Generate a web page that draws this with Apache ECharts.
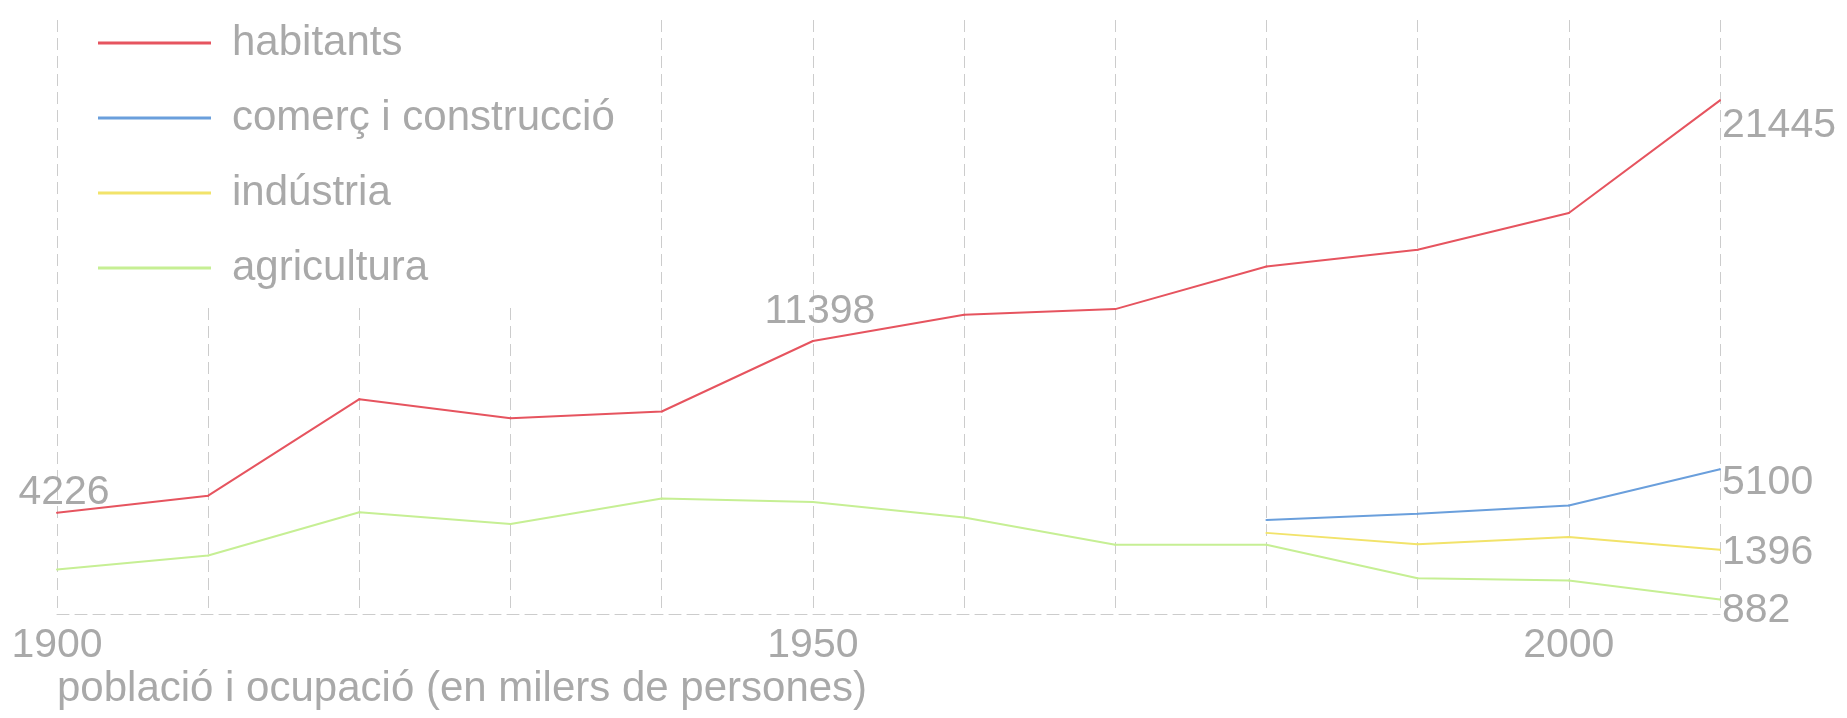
<!DOCTYPE html>
<html>
<head>
<meta charset="utf-8">
<script src="https://cdn.jsdelivr.net/npm/echarts@6/dist/echarts.min.js"></script>
<style>
html,body{margin:0;padding:0;background:#fff;}
#chart{width:1847px;height:718px;}
</style>
</head>
<body>
<div id="chart"></div>
<script>
// ---- data (values in thousands of persons) ----
const years = [1900, 1910, 1920, 1930, 1940, 1950, 1960, 1970, 1980, 1990, 2000, 2010];
const seriesNames = ['habitants', 'comerç i construcció', 'indústria', 'agricultura'];
const habitants   = [4226, 4940, 8970, 8170, 8455, 11398, 12490, 12730, 14510, 15210, 16740, 21445];
const comerc      = [null, null, null, null, null, null, null, null, 3920, 4190, 4530, 6045];
const industria   = [null, null, null, null, null, null, null, null, 3387, 2917, 3218, 2678];
const agricultura = [1853, 2442, 4250, 3760, 4824, 4672, 4025, 2895, 2895, 1490, 1400, 608];
const tickLabels = [1900, 1950, 2000];
const habitantsLabelIdx = [0, 5, 11];
const sectorEndLabels = ['5100', '1396', '882'];
const axisTitle = 'població i ocupació (en milers de persones)';

// ---- styling ----
const FONT = 'Liberation Sans, Arial, sans-serif';
const GRAY = '#a9a9a9';
const GRID = '#cccccc';
const colors = ['#e6545f', '#6a9fdc', '#f2e36a', '#c6ef94'];

function pairs(vals) {
  return years.map((y, i) => [y, vals[i]]);
}

const labelBase = { show: true, color: GRAY, fontSize: 41, fontFamily: FONT };

const habLabelCfg = [
  { position: 'top', distance: -1, offset: [7, 0] },
  { position: 'top', distance: 8, offset: [7, 0] },
  { position: 'right', distance: 1, offset: [0, 25] }
];

const habData = pairs(habitants).map((p, i) => {
  const k = habitantsLabelIdx.indexOf(i);
  if (k < 0) return p;
  return { value: p, label: Object.assign({}, labelBase, habLabelCfg[k]) };
});

const sectorOffsets = [[0, 13], [0, 3], [0, 11]];
function sectorData(vals, k) {
  const d = pairs(vals);
  const last = d.length - 1;
  return d.map((p, i) => i === last
    ? { value: p, label: Object.assign({}, labelBase, { position: 'right', distance: 1, offset: sectorOffsets[k], formatter: sectorEndLabels[k] }) }
    : p);
}

function lineSeries(idx, data, z) {
  return {
    name: seriesNames[idx], type: 'line', data: data,
    symbol: 'circle', symbolSize: 2, showSymbol: true, showAllSymbol: true,
    lineStyle: { width: 2 }, z: z || 2
  };
}

const chart = echarts.init(document.getElementById('chart'));
chart.setOption({
  animation: false,
  backgroundColor: '#fff',
  color: colors,
  grid: { left: 57, right: 127, top: 20, bottom: 104, containLabel: false },
  legend: {
    orient: 'vertical',
    left: 80, top: 0,
    padding: [22, 30, 17, 18],
    backgroundColor: '#fff',
    itemWidth: 113, itemHeight: 3,
    itemGap: 33,
    icon: 'rect',
    data: seriesNames,
    textStyle: { color: GRAY, fontSize: 42, fontFamily: FONT, lineHeight: 40, padding: [0, 0, 0, 16] }
  },
  title: {
    text: axisTitle,
    left: 57, top: 668, padding: 0,
    textStyle: { color: GRAY, fontSize: 42, fontWeight: 'normal', fontFamily: FONT }
  },
  xAxis: {
    type: 'value', min: 1900, max: 2010, interval: 10,
    axisLine: { show: true, lineStyle: { color: GRID, type: [12, 6], width: 1 } },
    axisTick: { show: false },
    axisLabel: {
      color: GRAY, fontSize: 41, fontFamily: FONT, margin: 11,
      showMaxLabel: false,
      formatter: v => tickLabels.indexOf(v) >= 0 ? String(v) : ''
    },
    splitLine: { show: true, lineStyle: { color: GRID, type: [12, 6], width: 1 } }
  },
  yAxis: {
    type: 'value', min: 0, max: 24800, show: false,
    splitLine: { show: false }
  },
  series: [
    lineSeries(0, habData, 5),
    lineSeries(1, sectorData(comerc, 0)),
    lineSeries(2, sectorData(industria, 1)),
    lineSeries(3, sectorData(agricultura, 2))
  ]
});
</script>
</body>
</html>
